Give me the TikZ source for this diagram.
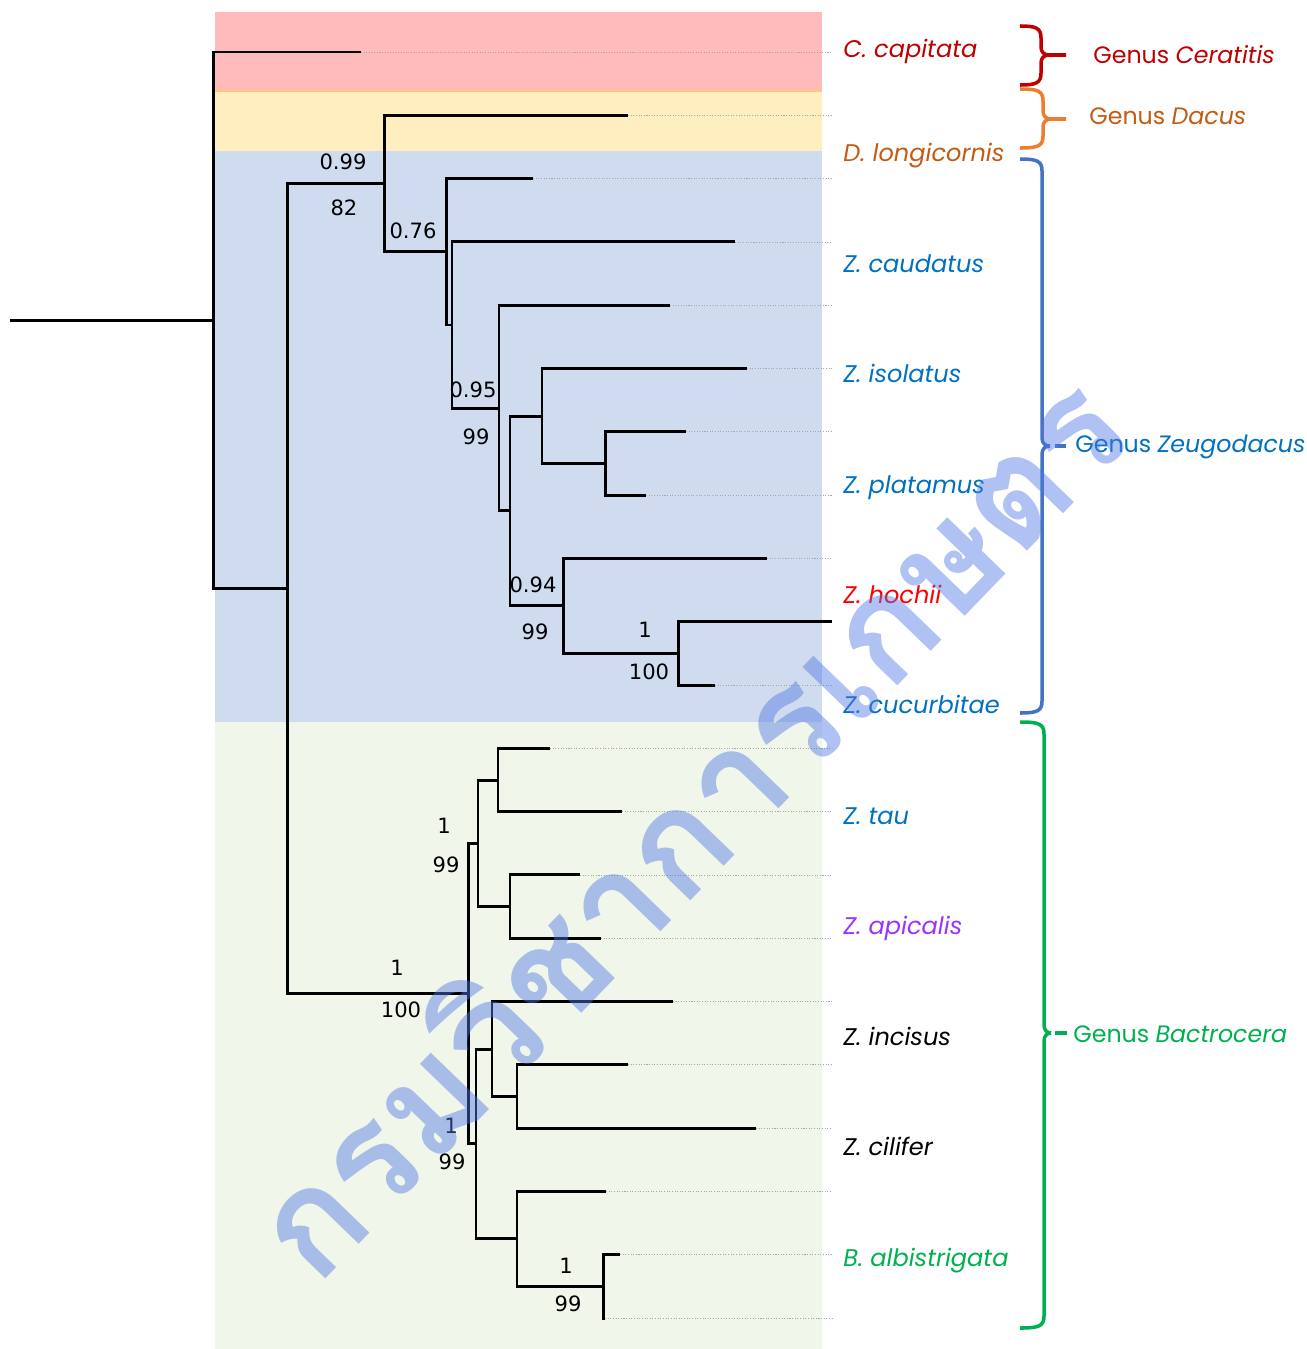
\documentclass[tikz,border=0pt]{standalone}
\usepackage{fontspec}
\setmainfont{Poppins}
\newfontfamily\supportfont{DejaVu Sans}
\newfontfamily\thaifont[Script=Thai]{Loma}
\usepackage{xcolor}
\definecolor{ceratitis}{RGB}{192,0,0}
\definecolor{dacus}{RGB}{197,90,17}
\definecolor{dacusbrace}{RGB}{237,125,49}
\definecolor{zeugodacus}{RGB}{0,112,192}
\definecolor{zeugobrace}{RGB}{68,114,196}
\definecolor{bactrocera}{RGB}{0,176,80}
\definecolor{hochii}{RGB}{255,0,0}
\definecolor{apicalis}{RGB}{153,51,255}
\definecolor{bandpink}{RGB}{255,187,187}
\definecolor{bandline}{RGB}{255,197,143}
\definecolor{bandyellow}{RGB}{255,238,191}
\definecolor{bandblue}{RGB}{207,219,238}
\definecolor{bandgreen}{RGB}{240,247,234}
\definecolor{stampblue}{RGB}{80,120,230}
\tikzstyle{branch}=[line width=1.7pt, black]
\tikzstyle{leader}=[line width=0.4pt, gray!70, dash pattern=on 0.6pt off 0.9pt]
\tikzset{support/.style={inner sep=0pt, font=\supportfont\fontsize{12}{14}\selectfont}}
\tikzset{taxon/.style={anchor=base west, inner sep=0pt, font=\fontsize{13.7}{16}\selectfont\itshape}}
\tikzset{genus/.style={anchor=base west, inner sep=0pt, font=\fontsize{13.5}{16}\selectfont}}
\tikzset{genus brace/.style={line width=2pt}}

\begin{document}
\begin{tikzpicture}[x=0.02cm,y=-0.02cm]
  \useasboundingbox (0,0) rectangle (1306,1349);
  %% Background bands, one per genus
  \fill[bandpink] (215,12) rectangle (822,89);
  \fill[bandline] (215,89) rectangle (822,92);
  \fill[bandyellow] (215,92) rectangle (822,151);
  \fill[bandblue] (215,151) rectangle (822,722);
  \fill[bandgreen] (215,722) rectangle (822,1349);

  %% Tips
  \coordinate (L1) at (361,52.0);
  \coordinate (L2) at (628,115.3);
  \coordinate (L3) at (533,178.6);
  \coordinate (L4) at (735,241.9);
  \coordinate (L5) at (670,305.2);
  \coordinate (L6) at (747,368.5);
  \coordinate (L7) at (686,431.8);
  \coordinate (L8) at (646,495.1);
  \coordinate (L9) at (767,558.4);
  \coordinate (L10) at (832,621.7);
  \coordinate (L11) at (715,685.0);
  \coordinate (L12) at (550,748.3);
  \coordinate (L13) at (622,811.6);
  \coordinate (L14) at (580,874.9);
  \coordinate (L15) at (601,938.2);
  \coordinate (L16) at (673,1001.5);
  \coordinate (L17) at (628,1064.8);
  \coordinate (L18) at (756,1128.1);
  \coordinate (L19) at (606,1191.4);
  \coordinate (L20) at (620,1254.7);
  \coordinate (L21) at (605,1318.0);
  \coordinate (rim) at (832,0);

  %% Inner nodes
  \coordinate (root) at (10,320.3);
  \coordinate (nT) at (213.5,320.3);
  \coordinate (nS) at (287.5,588.6);
  \coordinate (nI) at (384.5,183.6);
  \coordinate (nH) at (446.5,251.8);
  \coordinate (nG) at (452,325.0);
  \coordinate (nF) at (499,408.1);
  \coordinate (nE) at (510,510.9);
  \coordinate (nB) at (542,416.0);
  \coordinate (nA) at (605,463.5);
  \coordinate (nD) at (563,605.9);
  \coordinate (nC) at (678,653.4);
  \coordinate (nR) at (468.5,993.6);
  \coordinate (nL) at (478,843.3);
  \coordinate (nJ) at (498,780.0);
  \coordinate (nK) at (510,906.6);
  \coordinate (nQ) at (476,1143.9);
  \coordinate (nN) at (492,1049.0);
  \coordinate (nM) at (517,1096.5);
  \coordinate (nP) at (517,1238.9);
  \coordinate (nO) at (603,1286.4);

  %% Dotted leaders out to the band edge
  \draw[leader] (L1) -- (L1 -| rim);
  \draw[leader] (L2) -- (L2 -| rim);
  \draw[leader] (L3) -- (L3 -| rim);
  \draw[leader] (L4) -- (L4 -| rim);
  \draw[leader] (L5) -- (L5 -| rim);
  \draw[leader] (L6) -- (L6 -| rim);
  \draw[leader] (L7) -- (L7 -| rim);
  \draw[leader] (L8) -- (L8 -| rim);
  \draw[leader] (L9) -- (L9 -| rim);
  \draw[leader] (L11) -- (L11 -| rim);
  \draw[leader] (L12) -- (L12 -| rim);
  \draw[leader] (L13) -- (L13 -| rim);
  \draw[leader] (L14) -- (L14 -| rim);
  \draw[leader] (L15) -- (L15 -| rim);
  \draw[leader] (L16) -- (L16 -| rim);
  \draw[leader] (L17) -- (L17 -| rim);
  \draw[leader] (L18) -- (L18 -| rim);
  \draw[leader] (L19) -- (L19 -| rim);
  \draw[leader] (L20) -- (L20 -| rim);
  \draw[leader] (L21) -- (L21 -| rim);

  %% Branches
  \draw[branch] (root) -- (nT);
  \draw[branch] (nT) |- (L1);
  \draw[branch] (nT) |- (nS);
  \draw[branch] (nS) |- (nI);
  \draw[branch] (nS) |- (nR);

  \draw[branch] (nI) |- (L2);
  \draw[branch] (nI) |- (nH);
  \draw[branch] (nH) |- (L3);
  \draw[branch] (nH) |- (nG);
  \draw[branch] (nG) |- (L4);
  \draw[branch] (nG) |- (nF);
  \draw[branch] (nF) |- (L5);
  \draw[branch] (nF) |- (nE);
  \draw[branch] (nE) |- (nB);
  \draw[branch] (nE) |- (nD);
  \draw[branch] (nB) |- (L6);
  \draw[branch] (nB) |- (nA);
  \draw[branch] (nA) |- (L7);
  \draw[branch] (nA) |- (L8);
  \draw[branch] (nD) |- (L9);
  \draw[branch] (nD) |- (nC);
  \draw[branch] (nC) |- (L10);
  \draw[branch] (nC) |- (L11);

  \draw[branch] (nR) |- (nL);
  \draw[branch] (nR) |- (nQ);
  \draw[branch] (nL) |- (nJ);
  \draw[branch] (nL) |- (nK);
  \draw[branch] (nJ) |- (L12);
  \draw[branch] (nJ) |- (L13);
  \draw[branch] (nK) |- (L14);
  \draw[branch] (nK) |- (L15);
  \draw[branch] (nQ) |- (nN);
  \draw[branch] (nQ) |- (nP);
  \draw[branch] (nN) |- (L16);
  \draw[branch] (nN) |- (nM);
  \draw[branch] (nM) |- (L17);
  \draw[branch] (nM) |- (L18);
  \draw[branch] (nP) |- (L19);
  \draw[branch] (nP) |- (nO);
  \draw[branch] (nO) |- (L20);
  \draw[branch] (nO) |- (L21);

  %% Support values (posterior above, bootstrap below)
  \draw (343,162) node[support] (pp1) {0.99};
  \draw (344,208) node[support] (bs1) {82};
  \draw (413,231) node[support] (pp2) {0.76};
  \draw (473,390) node[support] (pp3) {0.95};
  \draw (476,437) node[support] (bs3) {99};
  \draw (533,585) node[support] (pp4) {0.94};
  \draw (535,632) node[support] (bs4) {99};
  \draw (645,630) node[support] (pp5) {1};
  \draw (649,672) node[support] (bs5) {100};
  \draw (397,968) node[support] (pp6) {1};
  \draw (401,1010) node[support] (bs6) {100};
  \draw (444,826) node[support] (pp7) {1};
  \draw (446,865) node[support] (bs7) {99};
  \draw (451,1126) node[support] (pp8) {1};
  \draw (452,1162) node[support] (bs8) {99};
  \draw (566,1266) node[support] (pp9) {1};
  \draw (568,1304) node[support] (bs9) {99};

  %% Species
  \draw (843,57) node[taxon, text=ceratitis] (capitata) {C. capitata};
  \draw (843,161) node[taxon, text=dacus] (longicornis) {D. longicornis};
  \draw (843,272) node[taxon, text=zeugodacus] (caudatus) {Z. caudatus};
  \draw (843,382) node[taxon, text=zeugodacus] (isolatus) {Z. isolatus};
  \draw (843,493) node[taxon, text=zeugodacus] (platamus) {Z. platamus};
  \draw (843,603) node[taxon, text=hochii] (hochii) {Z. hochii};
  \draw (843,713) node[taxon, text=zeugodacus] (cucurbitae) {Z. cucurbitae};
  \draw (843,824) node[taxon, text=zeugodacus] (tau) {Z. tau};
  \draw (843,934) node[taxon, text=apicalis] (apicalis) {Z. apicalis};
  \draw (843,1045) node[taxon] (incisus) {Z. incisus};
  \draw (843,1155) node[taxon] (cilifer) {Z. cilifer};
  \draw (843,1266) node[taxon, text=bactrocera] (albistrigata) {B. albistrigata};

  %% Genus braces
  \draw[genus brace, ceratitis] (1020,26) .. controls (1036,26) and (1041,28) .. (1041,38) -- (1041,47) .. controls (1041,52) and (1044,55) .. (1049,55) -- (1066,55);
  \draw[genus brace, ceratitis] (1020,85) .. controls (1036,85) and (1041,83) .. (1041,73) -- (1041,63) .. controls (1041,58) and (1044,55) .. (1049,55);
  \draw[genus brace, dacusbrace] (1020,89) .. controls (1038,89) and (1043,91) .. (1043,101) -- (1043,111) .. controls (1043,116) and (1046,119) .. (1051,119) -- (1066,119);
  \draw[genus brace, dacusbrace] (1020,148) .. controls (1038,148) and (1043,146) .. (1043,136) -- (1043,127) .. controls (1043,122) and (1046,119) .. (1051,119);
  \draw[genus brace, zeugobrace] (1020,159) .. controls (1037,159) and (1042,161) .. (1042,171) -- (1042,438) .. controls (1042,443) and (1045,446) .. (1050,446);
  \draw[genus brace, zeugobrace] (1020,713) .. controls (1037,713) and (1042,711) .. (1042,701) -- (1042,454) .. controls (1042,449) and (1045,446) .. (1050,446);
  \draw[genus brace, zeugobrace, line width=2.6pt] (1055,446) -- (1066,446);
  \draw[genus brace, bactrocera] (1020,722) .. controls (1039,722) and (1044,724) .. (1044,734) -- (1044,1025) .. controls (1044,1030) and (1047,1033) .. (1051,1033);
  \draw[genus brace, bactrocera] (1020,1328) .. controls (1039,1328) and (1044,1326) .. (1044,1316) -- (1044,1041) .. controls (1044,1036) and (1047,1033) .. (1051,1033);
  \draw[genus brace, bactrocera, line width=2.6pt] (1055,1033) -- (1067,1033);

  %% Genus names
  \draw (1093,63) node[genus, text=ceratitis] (gCeratitis) {Genus \textit{Ceratitis}};
  \draw (1089,124) node[genus, text=dacus] (gDacus) {Genus \textit{Dacus}};
  \draw (1075,452) node[genus, text=zeugodacus] (gZeugodacus) {Genus \textit{Zeugodacus}};
  \draw (1073,1042) node[genus, text=bactrocera] (gBactrocera) {Genus \textit{Bactrocera}};

  %% Stamp across the tree
  \draw (684,822) node[rotate=46, text=stampblue, opacity=0.45, font=\thaifont\bfseries\fontsize{83}{85}\selectfont] (stamp) {กรมวิชาการเกษตร};
\end{tikzpicture}
\end{document}
